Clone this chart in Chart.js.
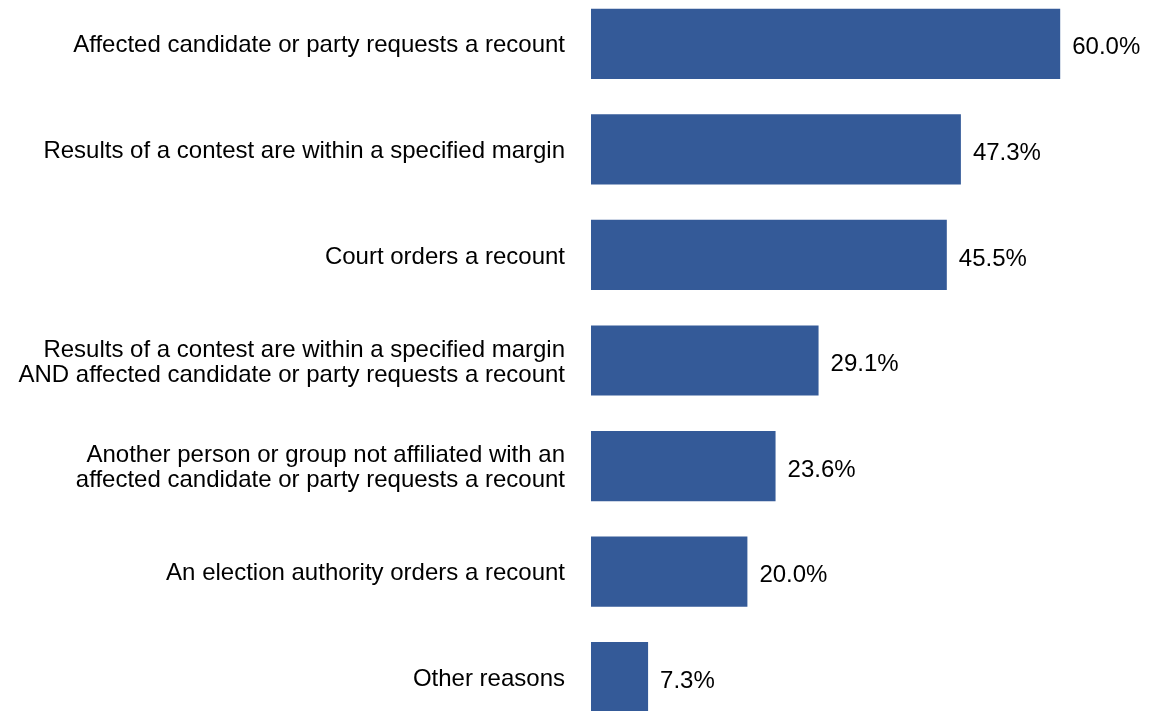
<!DOCTYPE html>
<html>
<head>
<meta charset="utf-8">
<script src="https://cdn.jsdelivr.net/npm/chart.js@4/dist/chart.umd.min.js"></script>
<style>
  html, body { margin: 0; padding: 0; background: #fff; overflow: hidden; }
  #c { position: absolute; left: 0; top: -9px; }
</style>
</head>
<body>
<canvas id="c" width="1150" height="739"></canvas>
<script>
const categories = [
  "Affected candidate or party requests a recount",
  "Results of a contest are within a specified margin",
  "Court orders a recount",
  ["Results of a contest are within a specified margin", "AND affected candidate or party requests a recount"],
  ["Another person or group not affiliated with an", "affected candidate or party requests a recount"],
  "An election authority orders a recount",
  "Other reasons"
];
const values = [60.0, 47.3, 45.5, 29.1, 23.6, 20.0, 7.3];

const FONT = '"Liberation Sans", Arial, Helvetica, sans-serif';

// nudge axis labels slightly down to match the reference baseline
const labelNudge = {
  id: 'labelNudge',
  beforeDraw(chart) { chart.ctx.save(); chart.ctx.translate(0, 2); },
  beforeDatasetsDraw(chart) { chart.ctx.restore(); }
};

const valueLabels = {
  id: 'valueLabels',
  afterDatasetsDraw(chart) {
    const ctx = chart.ctx;
    const meta = chart.getDatasetMeta(0);
    ctx.save();
    ctx.font = '24px ' + FONT;
    ctx.fillStyle = '#000';
    ctx.textAlign = 'left';
    ctx.textBaseline = 'middle';
    meta.data.forEach((bar, i) => {
      ctx.fillText(values[i].toFixed(1) + '%', bar.x + 12, bar.y + 4);
    });
    ctx.restore();
  }
};

new Chart(document.getElementById('c'), {
  type: 'bar',
  data: {
    labels: categories,
    datasets: [{
      data: values,
      backgroundColor: '#345a98',
      borderWidth: 0,
      barPercentage: 0.665,
      categoryPercentage: 1.0
    }]
  },
  options: {
    indexAxis: 'y',
    responsive: false,
    maintainAspectRatio: false,
    animation: false,
    devicePixelRatio: 1,
    layout: { padding: { left: 0, right: 11.6, top: 0, bottom: 0 } },
    plugins: { legend: { display: false }, tooltip: { enabled: false } },
    scales: {
      x: {
        display: false,
        min: 0,
        max: 70
      },
      y: {
        grid: { display: false, drawTicks: false },
        border: { display: false },
        afterFit(scale) {
          scale.width = 591;
          scale.paddingTop = 0;
          scale.paddingBottom = 0;
        },
        ticks: {
          color: '#000',
          padding: 26,
          font: { family: FONT, size: 24, lineHeight: 1.05 }
        }
      }
    }
  },
  plugins: [labelNudge, valueLabels]
});
</script>
</body>
</html>
